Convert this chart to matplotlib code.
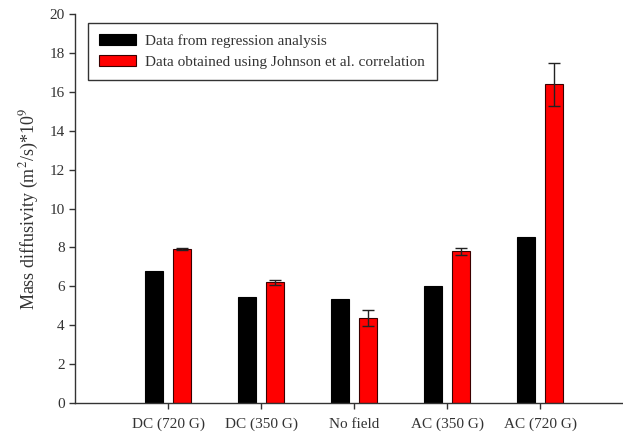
import numpy as np
import matplotlib.pyplot as plt

plt.rcParams['font.family'] = ['Liberation Serif', 'DejaVu Serif']
plt.rcParams['mathtext.fontset'] = 'stix'

conditions = ['DC (720 G)', 'DC (350 G)', 'No field', 'AC (350 G)', 'AC (720 G)']
regression = [6.80, 5.44, 5.32, 6.01, 8.55]
johnson = [7.91, 6.20, 4.35, 7.80, 16.40]
johnson_err = [0.05, 0.12, 0.42, 0.18, 1.10]

x = np.arange(1, len(conditions) + 1)
w = 0.19

fig = plt.figure(figsize=(6.23, 4.32), dpi=100)
ax = fig.add_axes([0.1204, 0.0678, 0.8796, 0.899])

ax.bar(x - 0.15, regression, width=w, color='black', edgecolor='black',
       linewidth=0.8, label='Data from regression analysis')
ax.bar(x + 0.15, johnson, width=w, color='#ff0000', edgecolor='#3a0000',
       linewidth=0.8, label='Data obtained using Johnson et al. correlation')
ax.errorbar(x + 0.15, johnson, yerr=johnson_err, fmt='none', ecolor='#222222',
            elinewidth=1.0, capsize=4.5, capthick=1.0)

ax.set_xlim(0, 5.89)
ax.set_ylim(0, 20)
ax.set_yticks(range(0, 21, 2))
ax.set_xticks(x)
ax.set_xticklabels(conditions)
ax.set_ylabel('Mass diffusivity (m$^2$/s)*10$^9$', fontsize=13, color='#333333',
              labelpad=6)

for s in ['top', 'right']:
    ax.spines[s].set_visible(False)
for s in ['left', 'bottom']:
    ax.spines[s].set_color('#333333')
    ax.spines[s].set_linewidth(1.0)
ax.tick_params(direction='out', length=4, width=1.0, colors='#333333',
               labelsize=11, labelcolor='#333333')
ax.tick_params(axis='x', pad=7)

leg = ax.legend(loc='upper left', bbox_to_anchor=(0.0237, 0.978), borderaxespad=0,
                fontsize=11, handlelength=2.4, handleheight=0.7, fancybox=False,
                framealpha=1, edgecolor='#333333', borderpad=0.75, labelspacing=0.45,
                handletextpad=0.6)
leg.get_frame().set_linewidth(1.0)
for t in leg.get_texts():
    t.set_color('#333333')

fig.savefig('out.png', dpi=100)
